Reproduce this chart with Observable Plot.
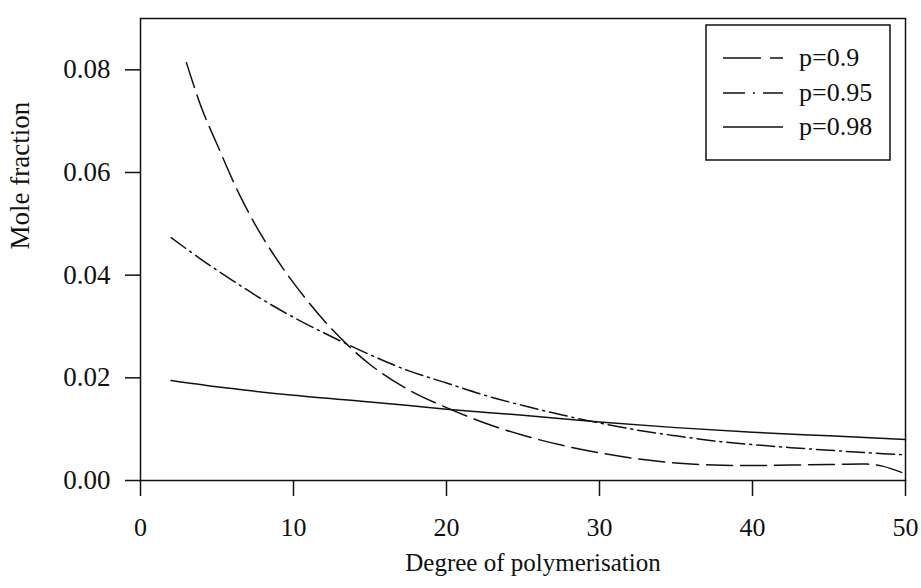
<!DOCTYPE html>
<html>
<head>
<meta charset="utf-8">
<script src="https://cdn.jsdelivr.net/npm/d3@7"></script>
<script src="https://cdn.jsdelivr.net/npm/@observablehq/plot@0.6"></script>
<style>
  html, body { margin: 0; padding: 0; background: #fff; }
  #chart { width: 921px; height: 588px; }
</style>
</head>
<body>
<div id="chart"></div>
<script>
// ---- data ----
const seriesNames = ["p=0.9", "p=0.95", "p=0.98"];

const p09X = [3, 4, 5, 6.5, 8, 10, 12.5, 15, 17.5, 20, 22.5, 25, 27.5, 30, 32.5, 35, 37.5, 40, 42.5, 45, 47.5, 48.5, 50];
const p09Y = [0.0814, 0.0725, 0.0655, 0.0555, 0.0473, 0.0385, 0.0295, 0.0226, 0.0177, 0.0142, 0.0112, 0.0088, 0.0069, 0.0054, 0.0042, 0.0034, 0.0030, 0.0029, 0.0030, 0.0031, 0.0032, 0.0028, 0.0013];

const p095X = [2, 4, 6, 8, 10, 12.5, 15, 17.5, 20, 22.5, 25, 27.5, 30, 32.5, 35, 37.5, 40, 42.5, 45, 47.5, 50];
const p095Y = [0.0473, 0.0430, 0.0390, 0.0352, 0.0318, 0.0280, 0.0245, 0.0214, 0.0190, 0.0166, 0.0146, 0.0128, 0.0112, 0.0098, 0.0087, 0.0077, 0.0070, 0.0064, 0.0059, 0.0054, 0.0050];

const p098X = [2, 6, 10, 15, 20, 25, 30, 35, 40, 45, 50];
const p098Y = [0.0195, 0.0179, 0.0166, 0.0153, 0.0139, 0.0127, 0.0114, 0.0103, 0.0094, 0.0087, 0.0080];

const xTicks = [0, 10, 20, 30, 40, 50];
const yTicks = [0, 0.02, 0.04, 0.06, 0.08];
const xLabel = "Degree of polymerisation";
const yLabel = "Mole fraction";

// ---- build tables ----
const toRows = (xs, ys, s) => xs.map((x, i) => ({ x, y: ys[i], s }));
const rows09 = toRows(p09X, p09Y, seriesNames[0]);
const rows095 = toRows(p095X, p095Y, seriesNames[1]);
const rows098 = toRows(p098X, p098Y, seriesNames[2]);

const dashes = { "p=0.9": "26,8", "p=0.95": "18,5,2,5", "p=0.98": null };
const legendDashes = ["38,9,13,40", "22,8,2,8,20,40", null];

const FONT = "'Liberation Serif', 'Times New Roman', serif";
const INK = "#111";

const lineOpts = (s) => ({
  x: "x", y: "y", stroke: INK, strokeWidth: 1.5, curve: "catmull-rom",
  strokeDasharray: dashes[s]
});

const plot = Plot.plot({
  width: 921,
  height: 588,
  marginLeft: 140,
  marginRight: 16,
  marginTop: 18,
  marginBottom: 108,
  style: { fontFamily: FONT, fontSize: "26px", color: INK, background: "#fff" },
  x: { domain: [0, 50], label: null },
  y: { domain: [0, 0.09], label: null },
  marks: [
    Plot.frame({ stroke: INK, strokeWidth: 1.5 }),
    Plot.line(rows09, lineOpts(seriesNames[0])),
    Plot.line(rows095, lineOpts(seriesNames[1])),
    Plot.line(rows098, lineOpts(seriesNames[2])),
    Plot.axisX({ ticks: xTicks, tickSize: 16, tickPadding: 21, tickFormat: d3.format("d"), label: null, strokeWidth: 1.5, fontSize: 26 }),
    Plot.axisY({ ticks: yTicks, tickSize: 15, tickPadding: 15, tickFormat: d3.format(".2f"), label: null, strokeWidth: 1.5, fontSize: 27 }),
    Plot.text([xLabel], { frameAnchor: "bottom", dx: 10, dy: 90, text: d => d, fontSize: 25, lineAnchor: "bottom", fill: INK }),
    Plot.text([yLabel], { frameAnchor: "left", dx: -112, rotate: -90, text: d => d, fontSize: 27, lineAnchor: "bottom", fill: INK })
  ]
});

document.getElementById("chart").appendChild(plot);

// ---- legend (box in the upper right) ----
const svg = d3.select(plot);
const lg = svg.append("g").attr("class", "legend");
lg.append("rect")
  .attr("x", 706).attr("y", 25).attr("width", 184).attr("height", 135)
  .attr("fill", "#fff").attr("stroke", INK).attr("stroke-width", 1.5);
const rowY = [58, 93, 127];
seriesNames.forEach((name, i) => {
  lg.append("line")
    .attr("x1", 723).attr("x2", 783).attr("y1", rowY[i]).attr("y2", rowY[i])
    .attr("stroke", INK).attr("stroke-width", 1.5)
    .attr("stroke-dasharray", legendDashes[i]);
  lg.append("text")
    .attr("x", 799).attr("y", rowY[i]).attr("dy", "0.32em")
    .attr("text-anchor", "start")
    .attr("font-family", FONT).attr("font-size", 26).attr("fill", INK)
    .text(name);
});
</script>
</body>
</html>
